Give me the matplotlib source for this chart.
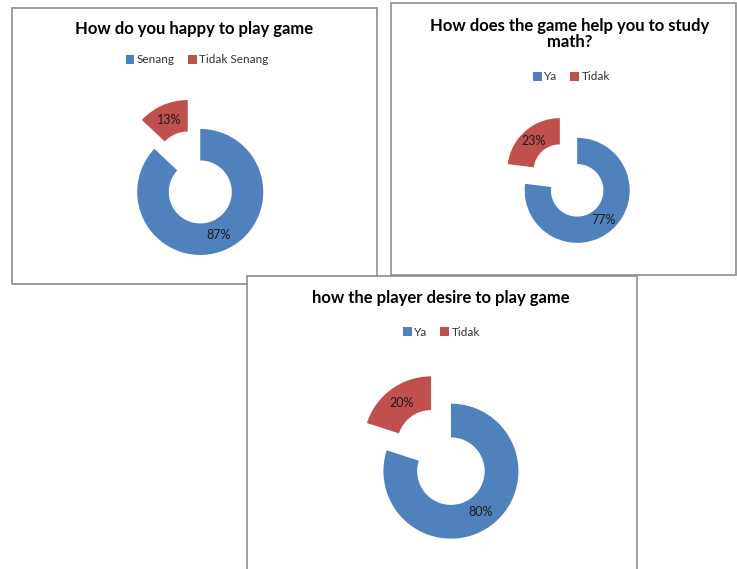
import matplotlib
matplotlib.use("Agg")
import matplotlib.pyplot as plt
from matplotlib.patches import Rectangle

W, H = 737, 569
FONT = "Lato"

titles = ["How do you happy to play game",
          "How does the game help you to study\nmath?",
          "how the player desire to play game"]
labels_1 = ["Senang", "Tidak Senang"]
labels_2 = ["Ya", "Tidak"]
labels_3 = ["Ya", "Tidak"]
values_1 = [87, 13]
values_2 = [77, 23]
values_3 = [80, 20]
colors = ["#4F81BD", "#C0504D"]

# layout (pixels): panel box (x0, y0, x1, y1), title center, legend center, pie center, radius
panels = [
    dict(box=(12, 8, 377, 284), title=(194, 29), legend=(197, 60), center=(194, 177.5), r=63,
         labels=labels_1, values=values_1, title_txt=titles[0]),
    dict(box=(391, 3, 736, 275), title=(569.5, 34), legend=(571.5, 77), center=(568.5, 180.5), r=52.5,
         labels=labels_2, values=values_2, title_txt=titles[1]),
    dict(box=(247, 276, 637, 600), title=(441, 298), legend=(441.5, 332), center=(441, 457.5), r=67.5,
         labels=labels_3, values=values_3, title_txt=titles[2]),
]

fig = plt.figure(figsize=(W / 100, H / 100), dpi=100)
fig.patch.set_facecolor("white")


def fx(px):
    return px / W


def fy(py):
    return 1 - py / H


for i, p in enumerate(panels):
    z = 10 * (i + 1)
    x0, y0, x1, y1 = p["box"]
    rect = Rectangle((fx(x0), fy(y1)), fx(x1) - fx(x0), fy(y0) - fy(y1),
                     transform=fig.transFigure, facecolor="white", edgecolor="#8E8E8E",
                     linewidth=1.2, zorder=z)
    fig.add_artist(rect)

    cx, cy = p["center"]
    S = 110  # half-size of axes in px
    ax = fig.add_axes([fx(cx - S), fy(cy + S), 2 * S / W, 2 * S / H])
    ax.set_zorder(z + 1)
    ax.patch.set_alpha(0)
    lim = S / p["r"]
    wedges, _, autotexts = ax.pie(p["values"], colors=colors, startangle=90, counterclock=False,
                                  explode=[0.25, 0.25], radius=1.0,
                                  wedgeprops=dict(width=0.5, edgecolor="none"),
                                  autopct=lambda v: f"{v:.0f}%", pctdistance=0.75,
                                  textprops=dict(fontsize=9, family=FONT, color="#1a1a1a"))
    ax.set_xlim(-lim, lim)
    ax.set_ylim(-lim, lim)
    ax.set_aspect("equal")
    ax.axis("off")

    tx, ty = p["title"]
    fig.text(fx(tx), fy(ty), p["title_txt"], ha="center", va="center", fontsize=12,
             fontweight="bold", family=FONT, color="#000000", zorder=z + 2, linespacing=1.0)

    lx, ly = p["legend"]
    leg = fig.legend(wedges, p["labels"], loc="center", bbox_to_anchor=(fx(lx), fy(ly)),
                     bbox_transform=fig.transFigure, ncol=2, frameon=False,
                     handlelength=0.75, handleheight=0.75, handletextpad=0.2,
                     columnspacing=1.1, prop=dict(family=FONT, size=8.5))
    leg.set_zorder(z + 2)
    for t in leg.get_texts():
        t.set_color("#333333")

fig.savefig("out.png", dpi=100, facecolor="white")
